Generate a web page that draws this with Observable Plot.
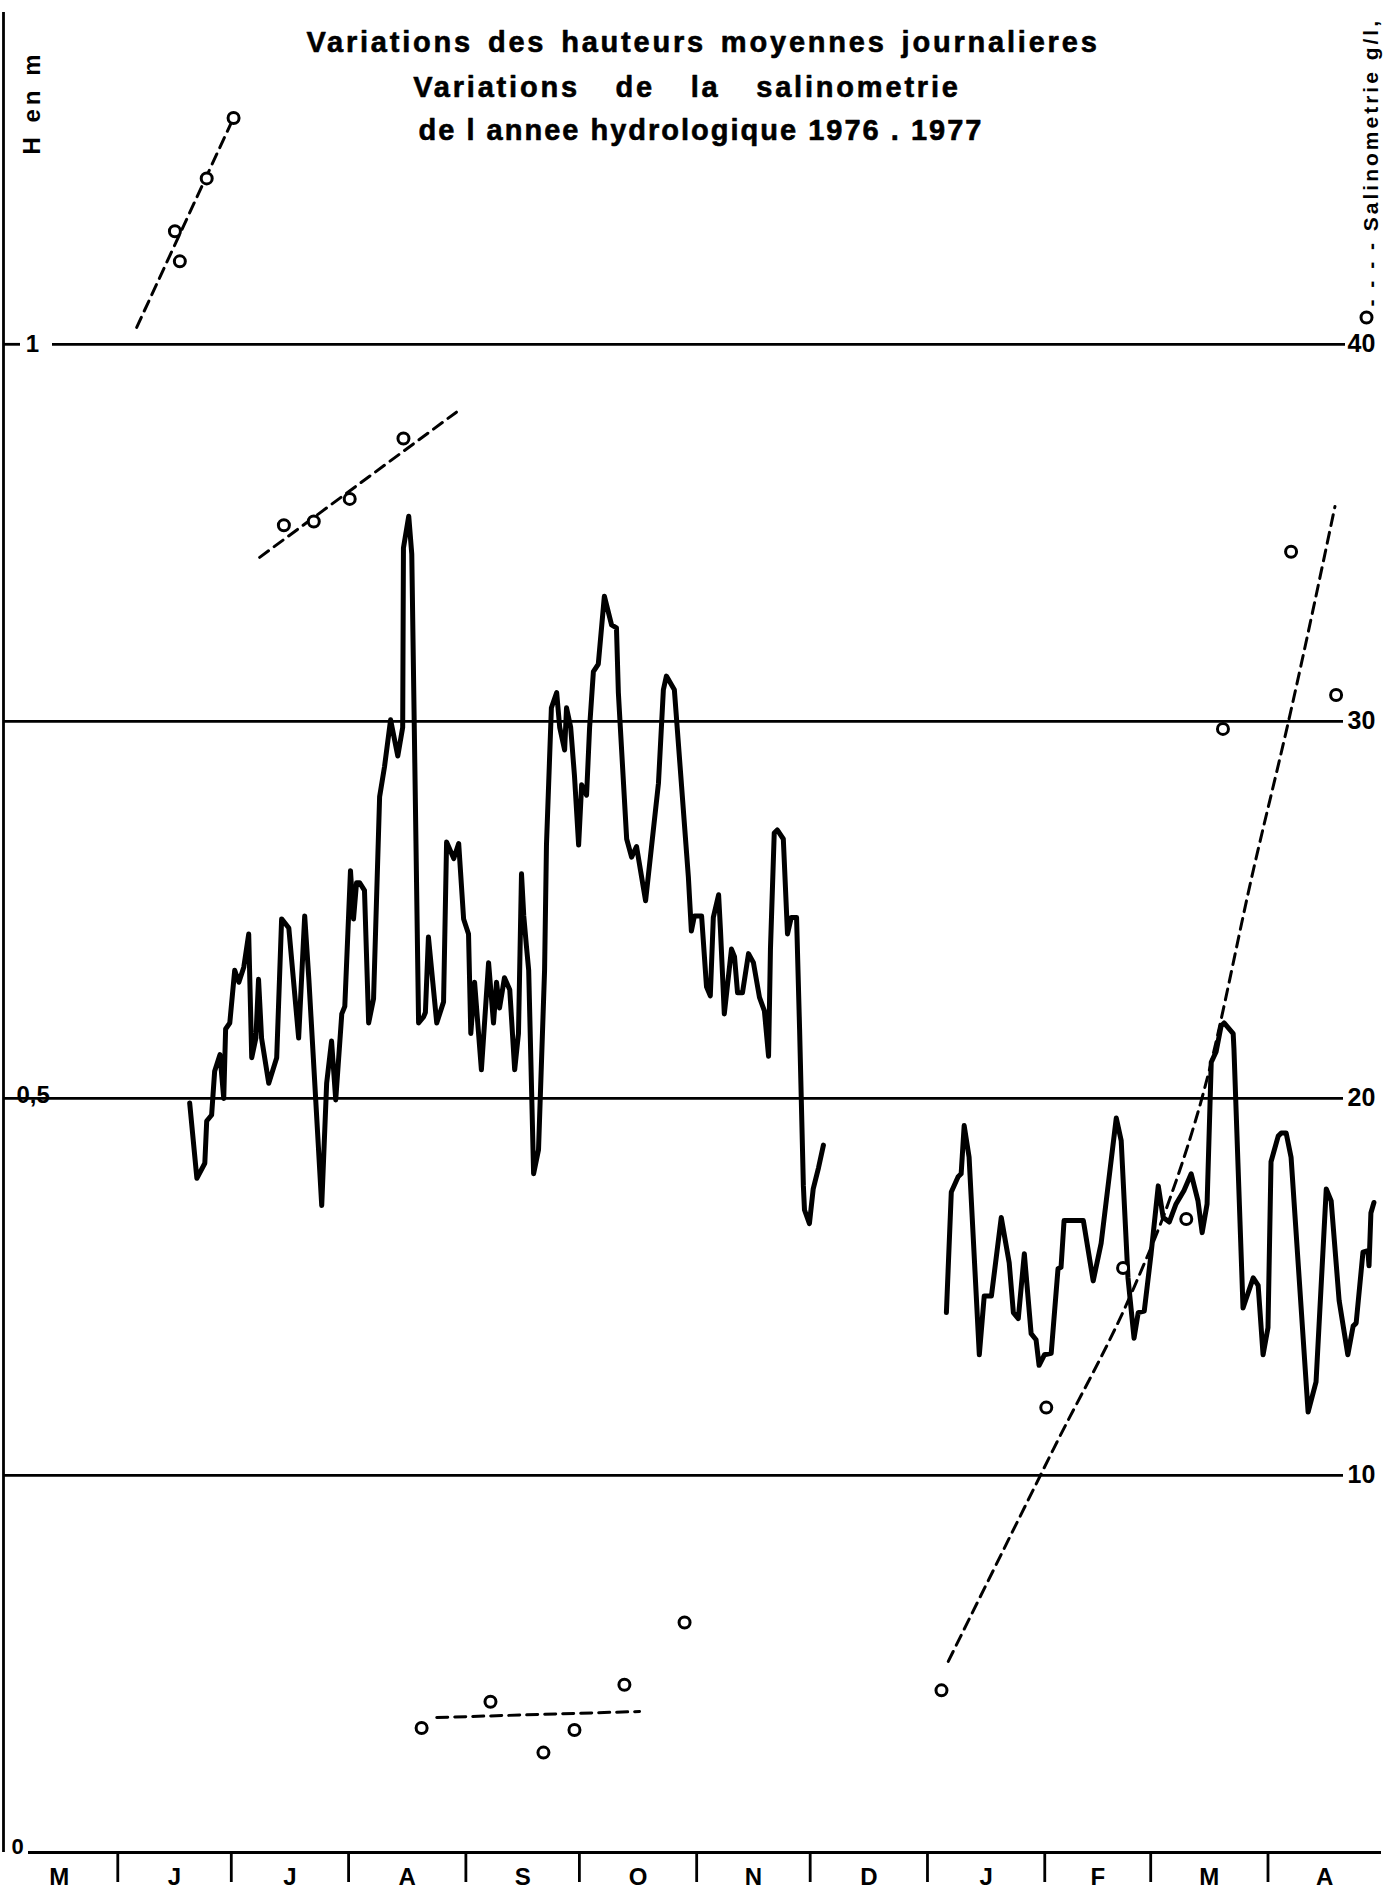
<!DOCTYPE html>
<html><head><meta charset="utf-8">
<script src="https://cdn.jsdelivr.net/npm/d3@7"></script>
<script src="https://cdn.jsdelivr.net/npm/@observablehq/plot@0.6"></script>
<style>
body{margin:0;background:#fff;}
#chart svg{display:block;}
</style></head><body><div id="chart"></div>
<script>
// ---- Text ----
const titleLines = [
  "Variations des hauteurs moyennes journalieres",
  "Variations\u00a0\u00a0de\u00a0\u00a0la\u00a0\u00a0salinometrie",
  "de l annee hydrologique 1976 . 1977"
];
const leftAxisLabel = "H en m";
const rightAxisLabel = "- - - - Salinometrie g/l,";
const monthLabels = ["M","J","J","A","S","O","N","D","J","F","M","A"];

// ---- Axis ticks ----
const hTicks = [0, 0.5, 1];
const hTickLabels = ["0", "0,5", "1"];
const salGrid = [10, 20, 30];
const salTop = 40;
const salTickLabels = ["10", "20", "30", "40"];

// ---- Daily mean height H (m); day = days since 1 May 1976 ----
const hDays1 = [50.0,51.9,54.0,54.5,55.8,56.6,58.0,59.0,59.5,60.6,61.9,63.0,64.3,65.6,66.4,67.5,68.2,69.0,70.9,73.0,74.3,76.2,78.8,80.4,81.5,84.9,86.2,87.5,88.6,90.2,91.0,92.5,93.3,94.1,94.9,96.2,97.3,98.6,100.2,101.5,103.1,105.0,106.3,106.5,107.9,108.7,110.5,111.8,112.3,113.1,115.3,117.1,117.9,119.8,121.1,122.4,123.7,124.3,125.3,127.1,129.0,130.3,131.1,131.9,133.2,134.6,135.9,136.9,137.7,138.3,139.0,139.6,140.9,142.2,143.8,144.3,145.6,147.0,147.8,149.1,149.6,150.7,151.7,152.8,153.6,154.9,155.7,156.7,158.0,159.6,161.5,162.8,163.3,165.5,166.8,168.1,170.5,173.9,175.2,176.0,178.1,181.8,182.6,183.4,185.3,186.6,187.6,188.4,189.8,190.3,191.3,193.2,194.0,194.8,196.1,197.7,199.0,200.6,201.9,203.0,203.5,204.5,205.3,206.9,208.0,209.0,210.4,211.2,212.2,212.5,213.8,214.8,216.2,217.5];
const hVals1 = [0.497,0.447,0.457,0.485,0.489,0.518,0.529,0.500,0.546,0.550,0.585,0.577,0.587,0.609,0.527,0.540,0.579,0.540,0.510,0.527,0.619,0.613,0.540,0.621,0.579,0.429,0.510,0.538,0.499,0.556,0.561,0.651,0.619,0.643,0.643,0.638,0.550,0.566,0.700,0.720,0.751,0.727,0.746,0.865,0.886,0.861,0.550,0.554,0.557,0.607,0.550,0.564,0.670,0.659,0.669,0.619,0.609,0.543,0.577,0.519,0.590,0.550,0.577,0.560,0.580,0.572,0.519,0.543,0.649,0.621,0.601,0.585,0.450,0.466,0.585,0.668,0.759,0.769,0.746,0.731,0.759,0.746,0.714,0.668,0.708,0.701,0.746,0.783,0.788,0.833,0.814,0.812,0.769,0.672,0.660,0.667,0.631,0.709,0.771,0.780,0.771,0.647,0.611,0.621,0.621,0.574,0.568,0.620,0.635,0.611,0.556,0.599,0.594,0.570,0.570,0.596,0.590,0.567,0.558,0.528,0.599,0.676,0.678,0.672,0.609,0.620,0.620,0.546,0.442,0.426,0.417,0.440,0.454,0.469];
const hDays2 = [250.0,251.3,253.1,253.9,254.7,256.0,258.7,260.0,261.9,264.5,266.6,267.7,269.0,270.6,272.4,273.7,274.5,275.9,277.7,279.5,280.3,281.1,286.2,288.8,290.9,294.9,296.2,298.0,299.6,300.7,302.3,304.1,306.0,307.3,308.9,310.7,312.8,314.7,316.5,317.6,318.9,320.0,321.3,322.6,323.4,325.8,326.0,328.4,329.2,331.1,332.4,333.7,335.0,335.8,337.7,338.5,339.8,341.1,345.6,347.7,350.4,351.7,353.8,356.1,357.5,358.3,360.1,361.4,361.7,362.2,363.0];
const hVals2 = [0.358,0.438,0.448,0.450,0.482,0.461,0.330,0.369,0.369,0.421,0.391,0.358,0.354,0.397,0.344,0.340,0.323,0.330,0.331,0.387,0.388,0.419,0.419,0.379,0.404,0.487,0.472,0.381,0.341,0.358,0.359,0.397,0.442,0.421,0.418,0.430,0.439,0.450,0.432,0.411,0.430,0.524,0.531,0.548,0.550,0.543,0.533,0.361,0.367,0.381,0.376,0.330,0.348,0.458,0.475,0.477,0.477,0.461,0.292,0.312,0.440,0.432,0.366,0.330,0.349,0.351,0.398,0.399,0.389,0.424,0.431];

// ---- Salinity samples (g/l) ----
const salDays = [46.1,47.4,54.5,61.6,74.9,82.8,92.3,106.5,111.3,129.5,143.5,151.7,164.9,180.8,248.7,276.4,296.7,313.4,323.1,341.1,353.0];
const salVals = [43.0,42.2,44.4,46.0,35.2,35.3,35.9,37.5,3.3,4.0,2.65,3.25,4.45,6.1,4.3,11.8,15.5,16.8,29.8,34.5,30.7];

// ---- Salinity trend (dashed) lines ----
const trendGroup = ["A","A","B","B","C","C","D","D","D","D","D","D","D","D"];
const trendDays  = [36.0,61.1,68.5,120.5,115.3,168.9,250.5,278.5,299.6,308.9,318.1,331.3,340.6,352.7];
const trendSal   = [40.45,45.9,34.35,38.2,3.58,3.74,5.07,10.74,14.99,17.29,20.21,26.13,30.08,35.7];

// ---- helpers ----
const t0 = Date.UTC(1976, 4, 1);
const toDate = d => new Date(t0 + d * 864e5);
const start = new Date(t0), end = new Date(Date.UTC(1977, 4, 1));
const monthStarts = d3.utcMonth.range(start, end);
const monthMids = monthStarts.map(m => new Date((+m + +d3.utcMonth.offset(m, 1)) / 2));
const innerTicks = monthStarts.slice(1);

const hRows = [
  ...hDays1.map((d, i) => ({date: toDate(d), h: hVals1[i], seg: 1})),
  ...hDays2.map((d, i) => ({date: toDate(d), h: hVals2[i], seg: 2}))
];
const salRows = salDays.map((d, i) => ({date: toDate(d), s: salVals[i]}));
const trendRows = trendDays.map((d, i) => ({date: toDate(d), s: trendSal[i], grp: trendGroup[i]}));
const sal2h = s => s / salTop;

const FONT = "'Liberation Sans', Arial, Helvetica, sans-serif";
const titleText = (i, dx, dy) => Plot.text([titleLines[i]], {frameAnchor: "top", dx, dy, lineAnchor: "middle",
  fontSize: 29, fontWeight: "bold", fill: "#000", stroke: "#000", strokeWidth: 0.6});

const chart = Plot.plot({
  width: 1383,
  height: 1887,
  marginTop: 12,
  marginBottom: 35,
  marginLeft: 0,
  marginRight: 2,
  style: {fontFamily: FONT, background: "#fff", color: "#000", overflow: "visible"},
  x: {type: "utc", domain: [start, end]},
  y: {domain: [0, 1.22], axis: null},
  marks: [
    // left axis spine
    Plot.ruleX([start], {dx: 3, strokeWidth: 2.8}),
    // grid lines (salinity 10, 20, 30 and 40 / H 0.25..1)
    Plot.ruleY(salGrid.map(sal2h), {insetLeft: 3, insetRight: 38, strokeWidth: 2.8}),
    Plot.ruleY([sal2h(salTop)], {insetLeft: 52, insetRight: 36, strokeWidth: 2.8}),
    Plot.ruleY([sal2h(salTop)], {insetLeft: 3, insetRight: 1361, strokeWidth: 2.8}),
    Plot.ruleY([0], {insetLeft: 28, strokeWidth: 2.8}),
    // month ticks and labels
    Plot.axisX({ticks: innerTicks, tickSize: 30, tickFormat: () => "", strokeWidth: 2.8, anchor: "bottom"}),
    Plot.axisX({ticks: monthMids, tickSize: 0, tickPadding: 15, tickFormat: (d, i) => monthLabels[i],
      anchor: "bottom", fontSize: 24, fontWeight: "bold"}),
    // left H labels
    Plot.text([hTicks[2]], {y: d => d, text: () => hTickLabels[2], frameAnchor: "left", dx: 32,
      textAnchor: "middle", fontSize: 24, fontWeight: "bold"}),
    Plot.text([hTicks[1]], {y: d => d, text: () => hTickLabels[1], frameAnchor: "left", dx: 16,
      textAnchor: "start", lineAnchor: "bottom", dy: 5, fontSize: 24, fontWeight: "bold"}),
    Plot.text([hTicks[0]], {y: d => d, text: () => hTickLabels[0], frameAnchor: "left", dx: 11,
      textAnchor: "start", lineAnchor: "bottom", dy: 1, fontSize: 22, fontWeight: "bold"}),
    // right salinity labels
    Plot.text([10, 20, 30, 40], {y: d => sal2h(d), text: (d, i) => salTickLabels[i], frameAnchor: "right",
      dx: -34, textAnchor: "start", fontSize: 25, fontWeight: "bold"}),
    // salinity trends
    Plot.line(trendRows, {x: "date", y: d => sal2h(d.s), z: "grp", curve: "monotone-x",
      strokeWidth: 3, strokeDasharray: "11,7"}),
    // water height
    Plot.line(hRows, {x: "date", y: "h", z: "seg", strokeWidth: 5, strokeLinejoin: "round", strokeLinecap: "round"}),
    // salinity samples
    Plot.dot(salRows, {x: "date", y: d => sal2h(d.s), r: 5.5, stroke: "#000", strokeWidth: 3, fill: "#fff"}),
    // axis titles
    Plot.text([leftAxisLabel], {frameAnchor: "top-left", dx: 22, dy: 90, rotate: -90, textAnchor: "middle",
      fontSize: 24, fontWeight: "bold"}),
    Plot.text([rightAxisLabel], {frameAnchor: "top-right", dx: -18, dy: 294, rotate: -90, textAnchor: "start",
      fontSize: 21, fontWeight: "bold"}),
    Plot.dot([0], {frameAnchor: "top-right", dx: -15, dy: 305, r: 5.5, stroke: "#000", strokeWidth: 3, fill: "#fff"}),
    // title (three lines)
    titleText(0, 12, 30),
    titleText(1, -4, 75),
    titleText(2, 10, 118)
  ]
});

function styleText(pred, styles) {
  d3.select(chart).selectAll("text").filter(function() { return pred(this.textContent); })
    .each(function() { for (const k in styles) d3.select(this).style(k, styles[k]); });
}
styleText(t => t === titleLines[0], {"letter-spacing": "2.8px", "word-spacing": "4px"});
styleText(t => t === titleLines[1], {"letter-spacing": "2.8px", "word-spacing": "7px"});
styleText(t => t === titleLines[2], {"letter-spacing": "2px"});
styleText(t => t === leftAxisLabel, {"letter-spacing": "4px"});
styleText(t => t === rightAxisLabel, {"letter-spacing": "3px"});
document.getElementById("chart").appendChild(chart);
</script></body></html>
